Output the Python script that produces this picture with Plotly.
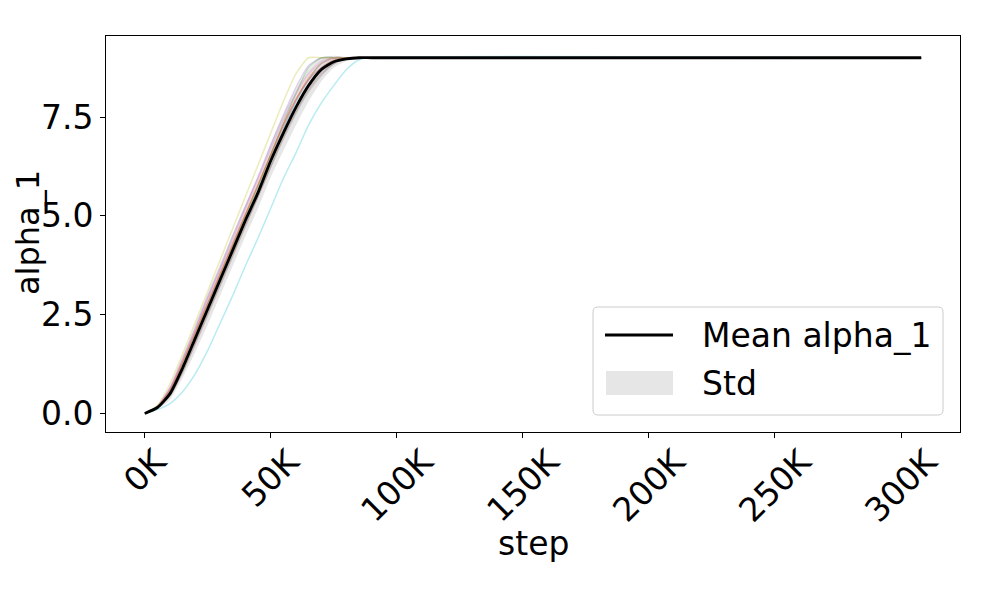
import plotly.graph_objects as go

# ---------------- data ----------------
steps = [0, 5000, 10000, 15000, 20000, 25000, 30000, 35000, 40000, 45000,
         50000, 55000, 60000, 65000, 70000, 75000, 80000, 85000, 90000, 308000]

mean_alpha = [0, 0.15, 0.5, 1.15, 1.9, 2.65, 3.4, 4.15, 4.9, 5.6,
              6.4, 7.1, 7.75, 8.3, 8.7, 8.9, 8.97, 9.0, 9.0, 9.0]
std_alpha = [0, 0.05, 0.15, 0.25, 0.35, 0.4, 0.4, 0.4, 0.4, 0.4,
             0.42, 0.45, 0.45, 0.4, 0.3, 0.15, 0.05, 0.02, 0, 0]

run_blue = [0, 0.15, 0.5, 1.15, 1.9, 2.65, 3.4, 4.15, 4.9, 5.65, 6.45, 7.2, 7.9, 8.45, 8.85, 9.0, 9.0, 9.0, 9.0, 9.0]
run_orange = [0, 0.17, 0.6, 1.3, 2.05, 2.8, 3.55, 4.3, 5.05, 5.8, 6.55, 7.3, 7.95, 8.5, 8.85, 9.0, 9.0, 9.0, 9.0, 9.0]
run_green = [0, 0.16, 0.55, 1.25, 2.0, 2.75, 3.5, 4.25, 5.0, 5.75, 6.55, 7.35, 8.1, 8.75, 9.0, 9.0, 9.0, 9.0, 9.0, 9.0]
run_red = [0, 0.17, 0.6, 1.3, 2.05, 2.8, 3.55, 4.3, 5.05, 5.8, 6.55, 7.3, 7.95, 8.45, 8.75, 8.95, 9.0, 9.0, 9.0, 9.0]
run_purple = [0, 0.18, 0.65, 1.4, 2.15, 2.95, 3.7, 4.5, 5.25, 6.0, 6.8, 7.55, 8.25, 8.8, 9.0, 9.0, 9.0, 9.0, 9.0, 9.0]
run_brown = [0, 0.14, 0.45, 1.05, 1.75, 2.5, 3.25, 4.0, 4.75, 5.5, 6.25, 7.0, 7.65, 8.2, 8.6, 8.85, 9.0, 9.0, 9.0, 9.0]
run_pink = [0, 0.18, 0.65, 1.35, 2.1, 2.9, 3.65, 4.4, 5.2, 5.95, 6.7, 7.45, 8.1, 8.6, 8.9, 9.0, 9.0, 9.0, 9.0, 9.0]
run_grey = [0, 0.14, 0.45, 1.05, 1.8, 2.55, 3.3, 4.05, 4.8, 5.5, 6.25, 6.95, 7.6, 8.15, 8.55, 8.85, 8.97, 9.0, 9.0, 9.0]
run_olive = [0, 0.2, 0.75, 1.5, 2.3, 3.1, 3.9, 4.7, 5.5, 6.3, 7.1, 7.9, 8.6, 9.0, 9.0, 9.0, 9.0, 9.0, 9.0, 9.0]
run_cyan = [0, 0.1, 0.25, 0.55, 1.0, 1.6, 2.3, 3.0, 3.75, 4.45, 5.2, 5.95, 6.6, 7.3, 7.85, 8.3, 8.7, 8.95, 9.0, 9.0]

runs = [run_blue, run_orange, run_green, run_red, run_purple,
        run_brown, run_pink, run_grey, run_olive, run_cyan]
run_colors = ["31,119,180", "255,127,14", "44,160,44", "214,39,40", "148,103,189",
              "140,86,75", "227,119,194", "127,127,127", "188,189,34", "23,190,207"]

x_tick_vals = [0, 50000, 100000, 150000, 200000, 250000, 300000]
x_tick_labels = ["0K", "50K", "100K", "150K", "200K", "250K", "300K"]
y_tick_vals = [0, 2.5, 5.0, 7.5]
y_tick_labels = ["0.0", "2.5", "5.0", "7.5"]

legend_labels = ["Mean alpha_1", "Std"]

# ---------------- figure ----------------
OFF = 8
W, H = 996 - 2 * OFF, 598 - 2 * OFF
L, R, T, B = 106, 960, 36, 432
FONT = "DejaVu Sans"
FS = 33

fig = go.Figure()

upper = [m + s for m, s in zip(mean_alpha, std_alpha)]
lower = [m - s for m, s in zip(mean_alpha, std_alpha)]

fig.add_trace(go.Scatter(x=steps, y=lower, mode="lines", line=dict(width=0, shape="spline", smoothing=0.6),
                         hoverinfo="skip", showlegend=False))
fig.add_trace(go.Scatter(x=steps, y=upper, mode="lines", line=dict(width=0, shape="spline", smoothing=0.6),
                         fill="tonexty", fillcolor="rgba(128,128,128,0.2)", hoverinfo="skip", showlegend=False))

for r, c in zip(runs, run_colors):
    fig.add_trace(go.Scatter(x=steps, y=r, mode="lines",
                             line=dict(color=f"rgba({c},0.3)", width=1.5, shape="spline", smoothing=0.6),
                             showlegend=False))

fig.add_trace(go.Scatter(x=steps, y=mean_alpha, mode="lines",
                         line=dict(color="black", width=2.8, shape="spline", smoothing=0.6),
                         showlegend=False))


def px(x):
    return (x - L) / (R - L)


def py(y):
    return (B - y) / (B - T)


annotations = []
for v, t in zip(x_tick_vals, x_tick_labels):
    annotations.append(dict(x=v, xref="x", y=0, yref="paper", text=t, showarrow=False,
                            textangle=-45, xanchor="center", yanchor="top", yshift=-6,
                            font=dict(family=FONT, size=FS, color="black")))

annotations.append(dict(x=0.5, xref="paper", y=py(543), yref="paper", text="step", showarrow=False,
                        xanchor="center", yanchor="middle", font=dict(family=FONT, size=FS, color="black")))
annotations.append(dict(x=px(OFF), xref="paper", y=py(233), yref="paper", text="alpha_1", showarrow=False,
                        textangle=-90, xanchor="left", yanchor="middle", borderpad=0,
                        font=dict(family=FONT, size=32, color="black")))

shapes = []
bx0, bx1, by0, by1, rad = 593, 943, 307, 415, 5


def rrect(x0, y0, x1, y1, r):
    pts = [
        f"M {px(x0 + r)} {py(y0)}",
        f"L {px(x1 - r)} {py(y0)}",
        f"Q {px(x1)} {py(y0)} {px(x1)} {py(y0 + r)}",
        f"L {px(x1)} {py(y1 - r)}",
        f"Q {px(x1)} {py(y1)} {px(x1 - r)} {py(y1)}",
        f"L {px(x0 + r)} {py(y1)}",
        f"Q {px(x0)} {py(y1)} {px(x0)} {py(y1 - r)}",
        f"L {px(x0)} {py(y0 + r)}",
        f"Q {px(x0)} {py(y0)} {px(x0 + r)} {py(y0)}",
        "Z",
    ]
    return " ".join(pts)


shapes.append(dict(type="path", xref="paper", yref="paper", path=rrect(bx0, by0, bx1, by1, rad),
                   fillcolor="rgba(255,255,255,0.8)", line=dict(color="#cccccc", width=1), layer="above"))
shapes.append(dict(type="line", xref="paper", yref="paper", x0=px(605), x1=px(673), y0=py(335), y1=py(335),
                   line=dict(color="black", width=2.8), layer="above"))
shapes.append(dict(type="rect", xref="paper", yref="paper", x0=px(606), x1=px(673), y0=py(371), y1=py(395),
                   fillcolor="rgba(128,128,128,0.2)", line=dict(width=0), layer="above"))
annotations.append(dict(x=px(700), xref="paper", y=py(335), yref="paper", text=legend_labels[0],
                        showarrow=False, xanchor="left", yanchor="middle",
                        font=dict(family=FONT, size=FS, color="black")))
annotations.append(dict(x=px(700), xref="paper", y=py(383), yref="paper", text=legend_labels[1],
                        showarrow=False, xanchor="left", yanchor="middle",
                        font=dict(family=FONT, size=FS, color="black")))

fig.update_layout(
    width=W, height=H,
    margin=dict(l=L - OFF, r=W - (R - OFF), t=T - OFF, b=H - (B - OFF), pad=0),
    paper_bgcolor="white", plot_bgcolor="white",
    showlegend=False,
    shapes=shapes, annotations=annotations,
    font=dict(family=FONT, size=FS, color="black"),
)
fig.update_xaxes(range=[-15400, 323400], showgrid=False, zeroline=False,
                 showline=True, linecolor="black", linewidth=1, mirror=True,
                 ticks="outside", ticklen=5, tickwidth=1, tickcolor="black",
                 tickvals=x_tick_vals, showticklabels=False)
fig.update_yaxes(range=[-0.47, 9.55], showgrid=False, zeroline=False,
                 showline=True, linecolor="black", linewidth=1, mirror=True,
                 ticks="outside", ticklen=5, tickwidth=1, tickcolor="black",
                 tickvals=y_tick_vals, ticktext=y_tick_labels,
                 tickfont=dict(family=FONT, size=FS, color="black"))

fig.write_html("out.html")
